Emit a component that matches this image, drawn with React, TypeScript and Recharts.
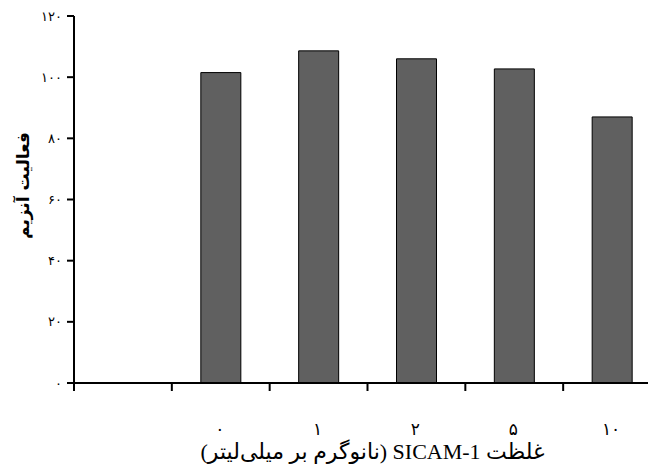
import React from "react";
import { BarChart, Bar, XAxis, YAxis, Label } from "recharts";

const categories = ["", "۰", "۱", "۲", "۵", "۱۰"];
const values: (number | null)[] = [null, 101.5, 108.6, 106, 102.7, 87];
const yTicks = [0, 20, 40, 60, 80, 100, 120];
const yTickLabels = ["۰", "۲۰", "۴۰", "۶۰", "۸۰", "۱۰۰", "۱۲۰"];
const yTitle = "فعالیت آنزیم";
const xTitle = "غلظت SICAM-1 (نانوگرم بر میلی‌لیتر)";

const data = categories.map((c, i) => ({ cat: c, value: values[i] }));

const XTick = (props: any) => {
  const { x, y, payload, index, visibleTicksCount } = props;
  const off = payload && payload.offset ? payload.offset : 0;
  const last = index === (visibleTicksCount ?? categories.length) - 1;
  return (
    <g>
      <line x1={x - off} x2={x - off} y1={y} y2={y + 8} stroke="#000" strokeWidth={2} />
      {last && <line x1={x + off} x2={x + off} y1={y} y2={y + 8} stroke="#000" strokeWidth={2} />}
      <text
        x={x - 1}
        y={y + 52}
        textAnchor="middle"
        fontSize={17}
        fontFamily="'Liberation Serif', 'DejaVu Sans', serif"
        fill="#000"
      >
        {payload.value}
      </text>
    </g>
  );
};

const XTitle = (props: any) => {
  const vb = props.viewBox || {};
  return (
    <text
      x={vb.x + vb.width / 2 + 5}
      y={451}
      textAnchor="middle"
      direction="rtl"
      style={{ direction: "rtl", unicodeBidi: "embed" } as any}
      fontSize={22}
      fontFamily="'Liberation Serif', 'DejaVu Sans', serif"
      fill="#000"
    >
      {xTitle}
    </text>
  );
};

export default function App() {
  return (
    <div style={{ width: 648, height: 456, overflow: "hidden" }}>
      <BarChart
        width={654}
        height={456}
        data={data}
        margin={{ top: 8, right: 1, left: 0, bottom: 0 }}
        barSize={40}
      >
        <XAxis
          dataKey="cat"
          height={81}
          axisLine={{ stroke: "#000", strokeWidth: 2 }}
          tickLine={false}
          tickSize={0}
          tickMargin={0}
          interval={0}
          tick={<XTick />}
        >
          <Label content={<XTitle />} />
        </XAxis>
        <YAxis
          width={66}
          domain={[0, 120]}
          ticks={yTicks}
          interval={0}
          axisLine={{ stroke: "#000", strokeWidth: 2 }}
          tickLine={{ stroke: "#000", strokeWidth: 2 }}
          tickSize={7}
          tickMargin={5}
          tickFormatter={(v: number) => yTickLabels[yTicks.indexOf(v)]}
          tick={{ fill: "#000", fontSize: 13, fontFamily: "'DejaVu Sans', sans-serif" }}
        >
          <Label
            value={yTitle}
            angle={-90}
            position="insideLeft"
            offset={15}
            dy={-14}
            style={{ fontSize: 17, fontWeight: "bold", fill: "#000", fontFamily: "'DejaVu Sans', sans-serif", textAnchor: "middle" }}
          />
        </YAxis>
        <Bar dataKey="value" fill="#606060" stroke="#000" strokeWidth={1} isAnimationActive={false} />
      </BarChart>
    </div>
  );
}
